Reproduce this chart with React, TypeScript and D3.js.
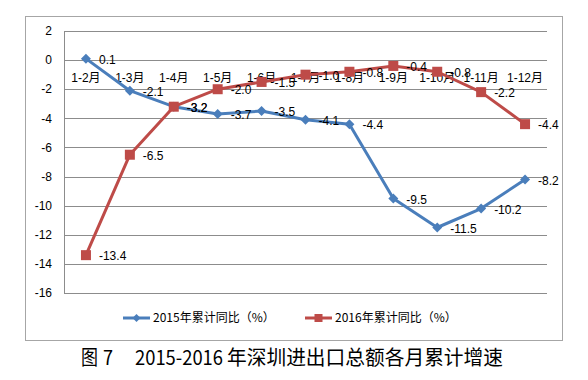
import React from "react";
import * as d3 from "d3";

const categories = ["1-2月", "1-3月", "1-4月", "1-5月", "1-6月", "1-7月", "1-8月", "1-9月", "1-10月", "1-11月", "1-12月"];
const values2015 = [0.1, -2.1, -3.2, -3.7, -3.5, -4.1, -4.4, -9.5, -11.5, -10.2, -8.2];
const values2016 = [-13.4, -6.5, -3.2, -2.0, -1.5, -1.0, -0.8, -0.4, -0.8, -2.2, -4.4];
const yTicks = [2, 0, -2, -4, -6, -8, -10, -12, -14, -16];
const seriesNames = ["2015年累计同比（%）", "2016年累计同比（%）"];
const captionParts = ["图", "7", "2015-2016", "年深圳进出口总额各月累计增速"];

const W = 588;
const H = 380;
const BLUE = "#4A7EBB";
const RED = "#BE4B48";
const FONT = "'Liberation Sans', Arial, 'Noto Sans CJK SC', sans-serif";
const CJK = "'Noto Sans CJK SC', sans-serif";

export default function App() {
  const x = d3.scaleBand<string>().domain(categories).range([64, 547]);
  const y = d3.scaleLinear().domain([-16, 2]).range([293, 31]);
  const cx = (c: string) => (x(c) as number) + x.bandwidth() / 2;
  const line = d3
    .line<number>()
    .x((_, i) => cx(categories[i]))
    .y((d) => y(d));

  const diamond = (px: number, py: number, r = 5) =>
    `M${px},${py - r}L${px + r},${py}L${px},${py + r}L${px - r},${py}Z`;

  const capX = [81, 103, 135, 227];
  const capLen = [17, 10, 88, 276];

  return (
    <svg width={W} height={H} style={{ position: "absolute", left: 0, top: 0, background: "#fff" }} fontFamily={FONT}>
      <rect x={0} y={0} width={W} height={H} fill="#fff" />
      <rect x={25.5} y={16.5} width={537} height={324} fill="#fff" stroke="#a6a6a6" strokeWidth={1} />
      {yTicks.map((t) => (
        <g key={t}>
          <line x1={64} x2={547} y1={Math.round(y(t)) + 0.5} y2={Math.round(y(t)) + 0.5} stroke="#8c8c8c" strokeWidth={1} />
          <text x={52} y={y(t)} dy="0.35em" textAnchor="end" fontSize={12} fill="#000">
            {t}
          </text>
        </g>
      ))}
      <line x1={64.5} x2={64.5} y1={y(2)} y2={y(-16)} stroke="#8c8c8c" strokeWidth={1} />
      {categories.map((c) => (
        <text key={c} x={cx(c)} y={y(0) + 18} dy="0.35em" textAnchor="middle" fontSize={12} fill="#000">
          {c}
        </text>
      ))}
      <path d={line(values2015) || ""} fill="none" stroke={BLUE} strokeWidth={3} strokeLinejoin="round" />
      {values2015.map((v, i) => (
        <path key={"d" + i} d={diamond(cx(categories[i]), y(v))} fill={BLUE} />
      ))}
      <path d={line(values2016) || ""} fill="none" stroke={RED} strokeWidth={3} strokeLinejoin="round" />
      {values2016.map((v, i) => (
        <rect key={"s" + i} x={cx(categories[i]) - 5} y={y(v) - 5} width={10} height={10} fill={RED} />
      ))}
      {values2015.map((v, i) => (
        <text key={"l1" + i} x={cx(categories[i]) + 13} y={y(v) + 1} dy="0.35em" fontSize={12} fill="#000">
          {v.toFixed(1)}
        </text>
      ))}
      {values2016.map((v, i) => (
        <text key={"l2" + i} x={cx(categories[i]) + 13} y={y(v) + 1} dy="0.35em" fontSize={12} fill="#000">
          {v.toFixed(1)}
        </text>
      ))}
      <g>
        <line x1={123} x2={150} y1={318} y2={318} stroke={BLUE} strokeWidth={3} />
        <path d={diamond(136.5, 318, 4)} fill={BLUE} />
        <text x={153} y={318} dy="0.35em" fontSize={12} fill="#000" fontFamily={CJK}>
          {seriesNames[0]}
        </text>
        <line x1={305} x2={332} y1={318} y2={318} stroke={RED} strokeWidth={3} />
        <rect x={314.5} y={314} width={8} height={8} fill={RED} />
        <text x={335} y={318} dy="0.35em" fontSize={12} fill="#000" fontFamily={CJK}>
          {seriesNames[1]}
        </text>
      </g>
      {captionParts.map((p, i) => (
        <text
          key={"c" + i}
          x={capX[i]}
          y={358}
          dy="0.35em"
          fontSize={20}
          fill="#000"
          fontFamily={CJK}
          textLength={capLen[i]}
          lengthAdjust="spacingAndGlyphs"
        >
          {p}
        </text>
      ))}
    </svg>
  );
}
